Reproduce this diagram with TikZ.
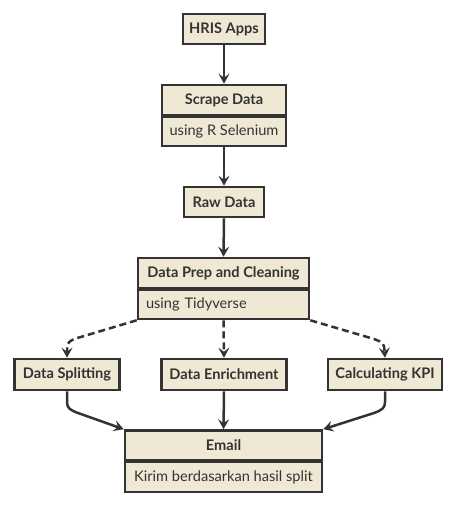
\documentclass[tikz,border=0pt]{standalone}
\usepackage{fontspec}
\setmainfont{Lato}
\usetikzlibrary{arrows.meta}
\definecolor{boxfill}{HTML}{EEE8D5}
\definecolor{ink}{HTML}{333333}
\begin{document}
\begin{tikzpicture}[x=1pt,y=-1pt,
  box/.style={draw=ink, fill=boxfill, line width=2.6pt, inner sep=0pt,
    minimum height=30pt, text=ink, font=\bfseries\fontsize{14.6}{16}\selectfont},
  subbox/.style={draw=ink, fill=boxfill, line width=2.6pt, inner sep=0pt,
    minimum height=29pt, text=ink, font=\fontsize{14.6}{16}\selectfont},
  flow/.style={draw=ink, line width=2.5pt, -{Stealth[length=10pt,width=11pt,inset=4pt]}},
  dflow/.style={flow, dash pattern=on 7pt off 4pt}
]
\useasboundingbox (0,0) rectangle (455,505);

\node[box, minimum width=82pt] (hris) at (224,29) {HRIS Apps};
\node[box, minimum width=124pt] (scrape) at (224,100) {Scrape Data};
\node[subbox, minimum width=124pt] (scrapesub) at (224,131.5) {using R Selenium};
\node[box, minimum width=80pt] (raw) at (224,202) {Raw Data};
\node[box, minimum width=171pt] (prep) at (223.5,273) {Data Prep and Cleaning};
\node[subbox, text width=155pt, align=left, inner xsep=8pt] (prepsub) at (223.5,304.5) {using Tidyverse};
\node[box, minimum width=105pt, minimum height=31pt] (split) at (67,374.5) {Data Splitting};
\node[box, minimum width=125pt, minimum height=31pt] (enrich) at (224,374.5) {Data Enrichment};
\node[box, minimum width=114pt, minimum height=31pt] (kpi) at (385,374.5) {Calculating KPI};
\node[box, minimum width=197pt] (email) at (223.5,445.5) {Email};
\node[subbox, minimum width=197pt, minimum height=30pt] (emailsub) at (223.5,477) {Kirim berdasarkan hasil split};

\draw[flow] (hris.south) -- (scrape.north);
\draw[flow] (scrapesub.south) -- (raw.north);
\draw[flow] (raw.south) -- (prep.north);

\draw[dflow] (prepsub.south west) -- (74,339) .. controls (67,343) .. (split.north);
\draw[dflow] (prepsub.south) -- (enrich.north);
\draw[dflow] (prepsub.south east) -- (374,339) .. controls (384,343) .. (kpi.north);

\draw[flow] (split.south) -- (67,402) .. controls (67,408) and (70,410) .. (78,413) -- (email.north west);
\draw[flow] (enrich.south) -- (email.north);
\draw[flow] (kpi.south) -- (385,402) .. controls (385,408) and (382,410) .. (374,413) -- (email.north east);
\end{tikzpicture}
\end{document}
